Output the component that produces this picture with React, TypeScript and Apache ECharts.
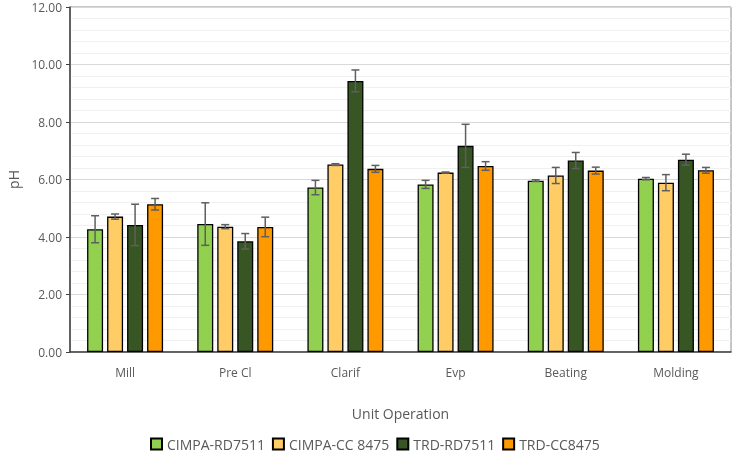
import React, { useEffect, useRef } from "react";
import * as echarts from "echarts";

const categories = ["Mill", "Pre Cl", "Clarif", "Evp", "Beating", "Molding"];
const seriesNames = ["CIMPA-RD7511", "CIMPA-CC 8475", "TRD-RD7511", "TRD-CC8475"];
const cimpaRD = [4.27, 4.45, 5.72, 5.83, 5.96, 6.03];
const cimpaRDErr = [0.47, 0.74, 0.25, 0.14, 0.03, 0.04];
const cimpaCC = [4.71, 4.36, 6.52, 6.24, 6.14, 5.89];
const cimpaCCErr = [0.09, 0.07, 0.03, 0.02, 0.28, 0.28];
const trdRD = [4.42, 3.85, 9.43, 7.17, 6.66, 6.69];
const trdRDErr = [0.72, 0.27, 0.38, 0.75, 0.28, 0.19];
const trdCC = [5.14, 4.35, 6.37, 6.47, 6.31, 6.32];
const trdCCErr = [0.2, 0.34, 0.12, 0.15, 0.12, 0.1];
const yTicks = ["0.00", "2.00", "4.00", "6.00", "8.00", "10.00", "12.00"];

const values = [cimpaRD, cimpaCC, trdRD, trdCC];
const errors = [cimpaRDErr, cimpaCCErr, trdRDErr, trdCCErr];
const colors = ["#92D050", "#FFCC66", "#375623", "#FF9900"];
const FONT = "'Open Sans', 'Noto Sans', sans-serif";
const BAR_W = 16;
const STRIDE = 20;

export default function App() {
  const ref = useRef<HTMLDivElement>(null);
  useEffect(() => {
    if (!ref.current) return;
    const chart = echarts.init(ref.current, undefined, { renderer: "svg" });
    const barSeries = seriesNames.map((name, si) => ({
      name,
      type: "bar",
      data: values[si],
      barWidth: BAR_W,
      barGap: "25%",
      itemStyle: { color: colors[si], borderColor: "#000000", borderWidth: 1.3 },
      z: 2,
    }));
    const errSeries = seriesNames.map((name, si) => ({
      name: name + " err",
      type: "custom",
      z: 5,
      encode: { x: 0, y: [1, 2] },
      data: values[si].map((v, i) => [i, v - errors[si][i], v + errors[si][i]]),
      renderItem: (params: any, api: any) => {
        const ci = api.value(0);
        const top = api.coord([ci, api.value(2)]);
        const bot = api.coord([ci, api.value(1)]);
        const x = top[0] + (si - 1.5) * STRIDE;
        const cw = 4;
        const style = { stroke: "#5f5f5f", lineWidth: 1.5 };
        return {
          type: "group",
          children: [
            { type: "line", shape: { x1: x, y1: top[1], x2: x, y2: bot[1] }, style },
            { type: "line", shape: { x1: x - cw, y1: top[1], x2: x + cw, y2: top[1] }, style },
            { type: "line", shape: { x1: x - cw, y1: bot[1], x2: x + cw, y2: bot[1] }, style },
          ],
        };
      },
    }));
    chart.setOption({
      animation: false,
      textStyle: { fontFamily: FONT },
      grid: {
        left: 70,
        right: 1,
        top: 7,
        bottom: 106,
        outerBoundsMode: "none",
        containLabel: false,
        show: true,
        borderColor: "#8c8c8c",
        borderWidth: 1,
      },
      legend: {
        data: seriesNames,
        bottom: 2,
        left: 145,
        icon: "rect",
        itemWidth: 11,
        itemHeight: 11,
        itemGap: 7,
        textStyle: { color: "#595959", fontSize: 14, fontFamily: FONT },
      },
      xAxis: {
        type: "category",
        data: categories,
        name: "Unit Operation",
        nameLocation: "middle",
        nameGap: 54,
        nameTextStyle: { color: "#595959", fontSize: 14, fontFamily: FONT },
        axisLine: { show: true, lineStyle: { color: "#404040", width: 1.5 } },
        axisTick: { show: false },
        axisLabel: { color: "#595959", fontSize: 12, margin: 14, fontFamily: FONT },
      },
      yAxis: {
        type: "value",
        min: 0,
        max: 12,
        interval: 2,
        name: "pH",
        nameLocation: "middle",
        nameGap: 50,
        nameTextStyle: { color: "#595959", fontSize: 14, fontFamily: FONT },
        axisLine: { show: true, lineStyle: { color: "#404040", width: 1.5 } },
        axisTick: { show: true, length: 4, lineStyle: { color: "#404040" } },
        axisLabel: {
          color: "#595959",
          fontSize: 12,
          margin: 8,
          fontFamily: FONT,
          formatter: (v: number) => yTicks[Math.round(v / 2)] ?? v.toFixed(2),
        },
        splitLine: { show: true, lineStyle: { color: "#d9d9d9", width: 1 } },
        minorTick: { show: false, splitNumber: 5 },
        minorSplitLine: { show: true, lineStyle: { color: "#f0f0f0", width: 1 } },
      },
      series: [...barSeries, ...errSeries],
    });
    return () => chart.dispose();
  }, []);
  return (
    <div
      ref={ref}
      style={{ position: "fixed", left: 0, top: 0, width: 732, height: 458 }}
    />
  );
}
